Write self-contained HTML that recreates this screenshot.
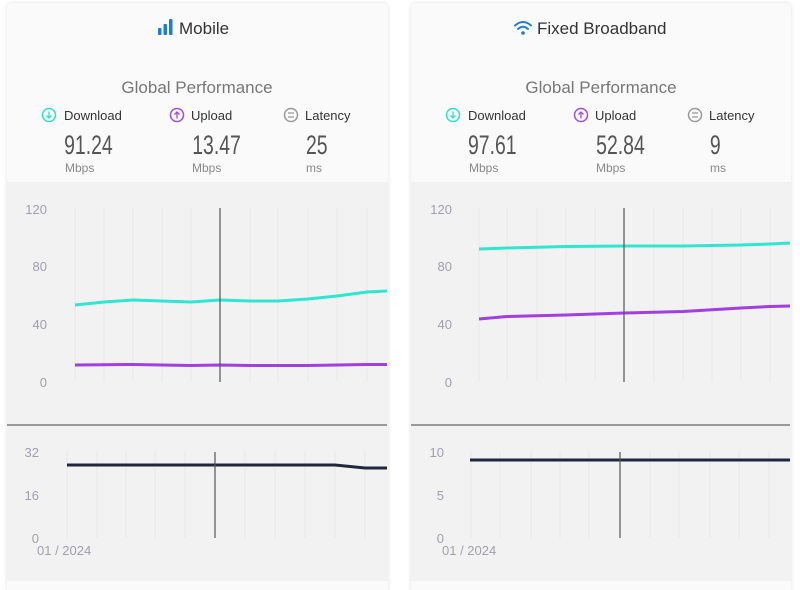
<!DOCTYPE html>
<html><head><style>
body{margin:0;width:800px;height:590px;background:#fff;overflow:hidden;font-family:"Liberation Sans",sans-serif}
svg{display:block}
</style></head><body>
<svg width="800" height="590" viewBox="0 0 800 590" xmlns="http://www.w3.org/2000/svg">
<defs><filter id="sh" x="-5%" y="-5%" width="110%" height="110%"><feGaussianBlur stdDeviation="2.5"/></filter></defs>
<g id="card1">
<rect x="7" y="3" width="381" height="600" rx="5" fill="#000" opacity="0.12" filter="url(#sh)"/>
<rect x="7" y="3" width="381" height="600" rx="5" fill="#fafafa"/>
<rect x="7" y="182" width="381" height="399" fill="#f2f2f2"/>
</g>
<g>
<rect x="411" y="3" width="380" height="600" rx="5" fill="#000" opacity="0.12" filter="url(#sh)"/>
<rect x="411" y="3" width="380" height="600" rx="5" fill="#fafafa"/>
<rect x="411" y="182" width="380" height="399" fill="#f2f2f2"/>
</g>

<!-- Left header -->
<g fill="#1a7fd4"><rect x="158" y="28" width="3.5" height="7" rx="1"/><rect x="163.5" y="24" width="3.5" height="11" rx="1"/><rect x="169" y="19" width="3.5" height="16" rx="1"/></g>
<text x="179" y="34" font-size="17" fill="#333">Mobile</text>
<text x="197" y="93" font-size="17" fill="#777" text-anchor="middle">Global Performance</text>
<g font-size="13" fill="#333">
<text x="64" y="120">Download</text><text x="191" y="120">Upload</text><text x="305" y="120">Latency</text>
</g>
<circle cx="49" cy="115" r="6.5" fill="none" stroke="#2de0cc" stroke-width="1.5"/><path d="M49 111.5v6M46.5 115.5l2.5 2.5 2.5-2.5" stroke="#2de0cc" fill="none" stroke-width="1.3"/>
<circle cx="177" cy="115" r="6.5" fill="none" stroke="#a14be0" stroke-width="1.5"/><path d="M177 118.5v-6M174.5 114.5l2.5-2.5 2.5 2.5" stroke="#a14be0" fill="none" stroke-width="1.3"/>
<circle cx="291" cy="115" r="6.5" fill="none" stroke="#999" stroke-width="1.5"/><path d="M288 113h6M288 117h6" stroke="#999" stroke-width="1.3"/>
<g font-size="27" fill="#555" transform="scale(0.72,1)">
<text x="89" y="154">91.24</text><text x="267" y="154">13.47</text><text x="425" y="154">25</text>
</g>
<g font-size="12" fill="#888"><text x="65" y="172">Mbps</text><text x="192" y="172">Mbps</text><text x="306" y="172">ms</text></g>

<!-- Right header -->
<g fill="none" stroke="#1a7fd4" stroke-width="2" stroke-linecap="round"><path d="M515 25.5q8-7 16 0"/><path d="M518 29q5-4.5 10 0"/></g><circle cx="523" cy="33" r="1.8" fill="#1a7fd4"/>
<text x="537" y="34" font-size="17" fill="#333">Fixed Broadband</text>
<text x="601" y="93" font-size="17" fill="#777" text-anchor="middle">Global Performance</text>
<g font-size="13" fill="#333">
<text x="468" y="120">Download</text><text x="595" y="120">Upload</text><text x="709" y="120">Latency</text>
</g>
<circle cx="453" cy="115" r="6.5" fill="none" stroke="#2de0cc" stroke-width="1.5"/><path d="M453 111.5v6M450.5 115.5l2.5 2.5 2.5-2.5" stroke="#2de0cc" fill="none" stroke-width="1.3"/>
<circle cx="581" cy="115" r="6.5" fill="none" stroke="#a14be0" stroke-width="1.5"/><path d="M581 118.5v-6M578.5 114.5l2.5-2.5 2.5 2.5" stroke="#a14be0" fill="none" stroke-width="1.3"/>
<circle cx="695" cy="115" r="6.5" fill="none" stroke="#999" stroke-width="1.5"/><path d="M692 113h6M692 117h6" stroke="#999" stroke-width="1.3"/>
<g font-size="27" fill="#555" transform="scale(0.72,1)">
<text x="650" y="154">97.61</text><text x="828" y="154">52.84</text><text x="986" y="154">9</text>
</g>
<g font-size="12" fill="#888"><text x="469" y="172">Mbps</text><text x="596" y="172">Mbps</text><text x="710" y="172">ms</text></g>

<!-- Left charts -->
<g stroke="#e8e8e8" stroke-width="1">
<path d="M75 208V382M104 208V382M133 208V382M162 208V382M191 208V382M250 208V382M278 208V382M308 208V382M337 208V382M367 208V382"/>
<path d="M67 452V538M97 452V538M126 452V538M155 452V538M185 452V538M245 452V538M275 452V538M305 452V538M335 452V538M365 452V538"/>
</g>
<g font-size="13" fill="#a0a0ad" text-anchor="end">
<text x="47" y="214">120</text><text x="47" y="271">80</text><text x="47" y="329">40</text><text x="47" y="387">0</text>
<text x="39" y="457">32</text><text x="39" y="500">16</text><text x="39" y="543">0</text>
</g>
<text x="37" y="555" font-size="13" fill="#a0a0ad">01 / 2024</text>
<path d="M75 305L104 302L133 300L162 301L191 302L220 300L250 301L278 301L308 299L337 296L367 292L387 291" fill="none" stroke="#2de8cf" stroke-width="3" stroke-linejoin="round"/>
<path d="M75 365L133 364.5L191 365.5L220 365L250 365.5L308 365.5L367 364.5L387 364.5" fill="none" stroke="#a040e0" stroke-width="3"/>
<path d="M67 465L335 465L365 468L387 468" fill="none" stroke="#23263a" stroke-width="3"/>
<path d="M220 208V382M215 452V538" stroke="#555" stroke-width="1.2"/>
<path d="M7 425H387" stroke="#666" stroke-width="1.3"/>

<!-- Right charts -->
<g stroke="#e8e8e8" stroke-width="1">
<path d="M479 208V382M507 208V382M537 208V382M566 208V382M595 208V382M654 208V382M683 208V382M712 208V382M741 208V382M770 208V382"/>
<path d="M471 452V538M500 452V538M531 452V538M560 452V538M589 452V538M650 452V538M679 452V538M710 452V538M739 452V538M769 452V538"/>
</g>
<g font-size="13" fill="#a0a0ad" text-anchor="end">
<text x="452" y="214">120</text><text x="452" y="271">80</text><text x="452" y="329">40</text><text x="452" y="387">0</text>
<text x="444" y="457">10</text><text x="444" y="500">5</text><text x="444" y="543">0</text>
</g>
<text x="442" y="555" font-size="13" fill="#a0a0ad">01 / 2024</text>
<path d="M479 249L507 248L566 246.5L624 246L683 246L741 245L770 244L790 243" fill="none" stroke="#2de8cf" stroke-width="3"/>
<path d="M479 319L507 316.5L566 315L624 313L683 311.5L741 308L770 306.5L790 306" fill="none" stroke="#a040e0" stroke-width="3"/>
<path d="M470 460H790" fill="none" stroke="#23263a" stroke-width="3"/>
<path d="M624 208V382M620 452V538" stroke="#555" stroke-width="1.2"/>
<path d="M411 425H790" stroke="#666" stroke-width="1.3"/>
</svg>
</body></html>
